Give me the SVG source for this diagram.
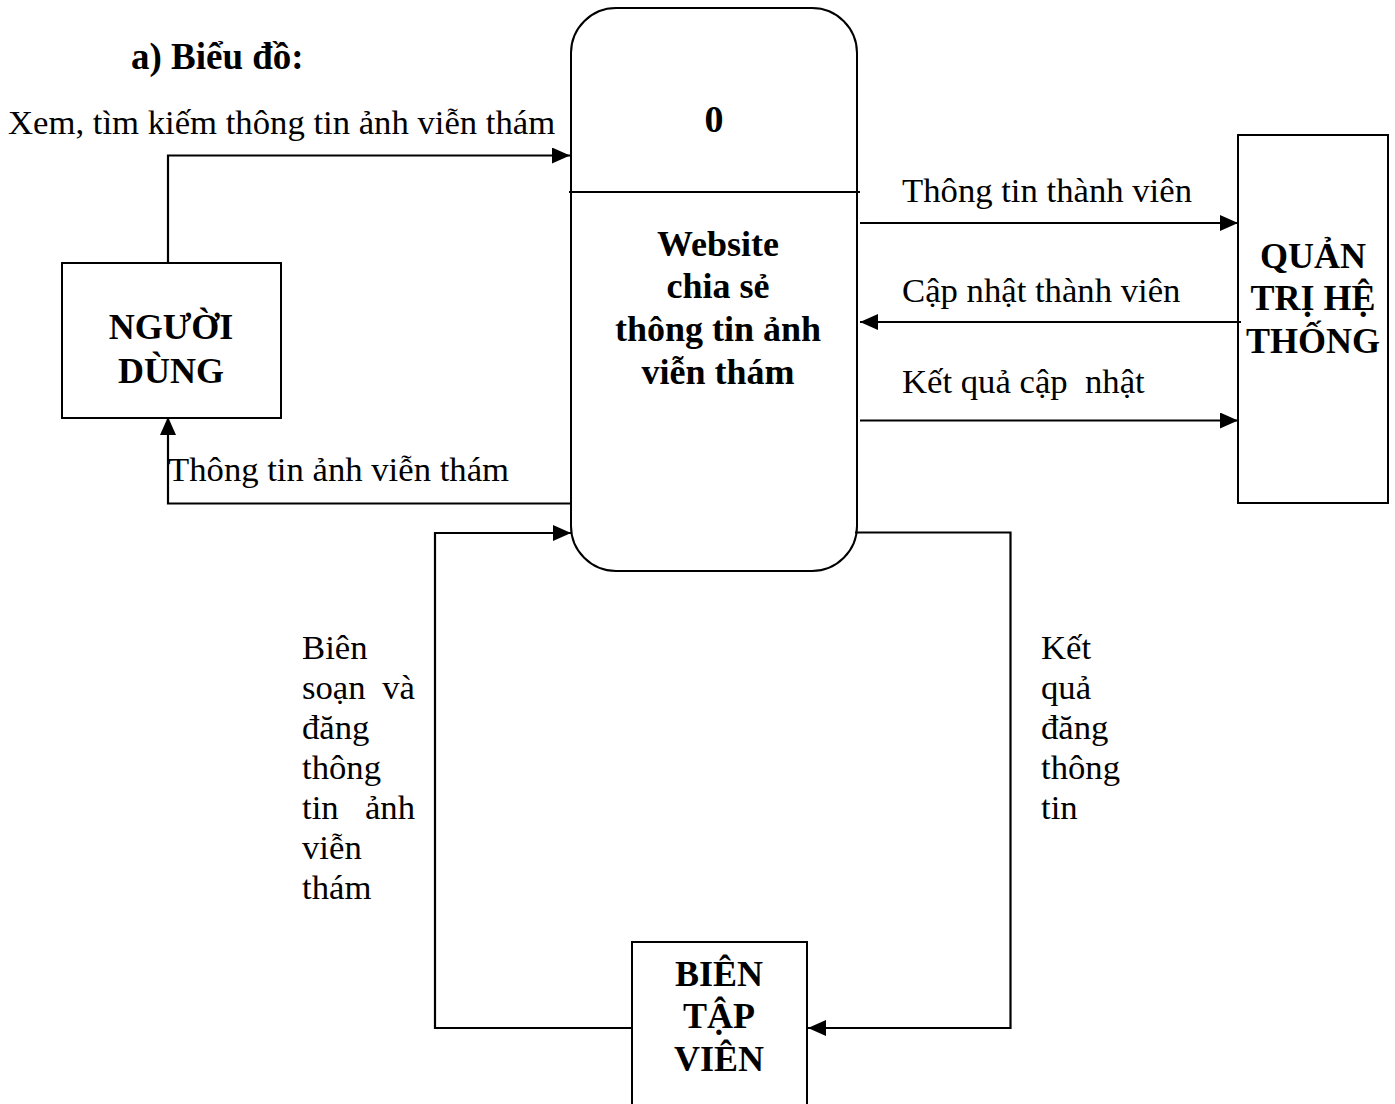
<svg xmlns="http://www.w3.org/2000/svg" width="1395" height="1104" viewBox="0 0 1395 1104">
  <style>
    .box { fill: #fff; stroke: #000; stroke-width: 2; }
    .flow { fill: none; stroke: #000; stroke-width: 2.2; }
    .lbl { font-family: "Liberation Serif", "Times New Roman", serif; font-size: 34.7px; fill: #000; }
    .node { font-family: "Liberation Serif", "Times New Roman", serif; font-size: 36px; font-weight: bold; fill: #000; text-anchor: middle; }
    .head { font-family: "Liberation Serif", "Times New Roman", serif; font-size: 37px; font-weight: bold; fill: #000; }
  </style>
  <defs>
    <marker id="arrow" markerUnits="userSpaceOnUse" markerWidth="19" markerHeight="17" refX="18" refY="8" orient="auto">
      <path d="M0,0 L18,8 L0,16 z" fill="#000"/>
    </marker>
  </defs>

  <rect width="1395" height="1104" fill="#fff"/>

  <text class="head" x="131" y="69">a) Biểu đồ:</text>

  <!-- process 0 -->
  <g id="process-0">
    <rect class="box" x="571" y="8" width="286" height="563" rx="45" ry="45"/>
    <line x1="569" y1="192" x2="860" y2="192" stroke="#000" stroke-width="2"/>
    <text class="node" x="714" y="132" style="font-size:38px">0</text>
    <text class="node" x="718" y="256">Website</text>
    <text class="node" x="718" y="298">chia sẻ</text>
    <text class="node" x="718" y="341">thông tin ảnh</text>
    <text class="node" x="718" y="384">viễn thám</text>
  </g>

  <!-- external entities -->
  <g id="nguoi-dung">
    <rect class="box" x="62" y="263" width="219" height="155"/>
    <text class="node" x="171" y="339">NGƯỜI</text>
    <text class="node" x="171" y="383">DÙNG</text>
  </g>

  <g id="quan-tri">
    <rect class="box" x="1238" y="135" width="150" height="368"/>
    <text class="node" x="1313" y="268">QUẢN</text>
    <text class="node" x="1313" y="310">TRỊ HỆ</text>
    <text class="node" x="1313" y="353">THỐNG</text>
  </g>

  <g id="bien-tap-vien">
    <rect class="box" x="632" y="942" width="175" height="175"/>
    <text class="node" x="719" y="986">BIÊN</text>
    <text class="node" x="719" y="1028">TẬP</text>
    <text class="node" x="719" y="1071">VIÊN</text>
  </g>

  <!-- data flows -->
  <g id="connectors">
    <path class="flow" d="M168,262 V155.5 H570" marker-end="url(#arrow)"/>
    <path class="flow" d="M571,503.5 H168 V417" marker-end="url(#arrow)"/>
    <path class="flow" d="M860,223 H1238" marker-end="url(#arrow)"/>
    <path class="flow" d="M1241,322 H860" marker-end="url(#arrow)"/>
    <path class="flow" d="M860,420.5 H1238" marker-end="url(#arrow)"/>
    <path class="flow" d="M632,1028 H435 V533 H571" marker-end="url(#arrow)"/>
    <path class="flow" d="M855,532.5 H1010.5 V1028 H808" marker-end="url(#arrow)"/>
  </g>

  <!-- flow labels -->
  <g id="labels">
    <text class="lbl" x="8" y="134">Xem, tìm kiếm thông tin ảnh viễn thám</text>
    <text class="lbl" x="168" y="481">Thông tin ảnh viễn thám</text>
    <text class="lbl" x="902" y="202">Thông tin thành viên</text>
    <text class="lbl" x="902" y="302">Cập nhật thành viên</text>
    <text class="lbl" x="902" y="393" xml:space="preserve">Kết quả cập  nhật</text>
    <text class="lbl" x="302" y="659">Biên</text>
    <text class="lbl" x="302" y="699">soạn</text>
    <text class="lbl" x="415" y="699" text-anchor="end">và</text>
    <text class="lbl" x="302" y="739">đăng</text>
    <text class="lbl" x="302" y="779">thông</text>
    <text class="lbl" x="302" y="819">tin</text>
    <text class="lbl" x="415" y="819" text-anchor="end">ảnh</text>
    <text class="lbl" x="302" y="859">viễn</text>
    <text class="lbl" x="302" y="899">thám</text>
    <text class="lbl" x="1041" y="659">Kết</text>
    <text class="lbl" x="1041" y="699">quả</text>
    <text class="lbl" x="1041" y="739">đăng</text>
    <text class="lbl" x="1041" y="779">thông</text>
    <text class="lbl" x="1041" y="819">tin</text>
  </g>
</svg>
